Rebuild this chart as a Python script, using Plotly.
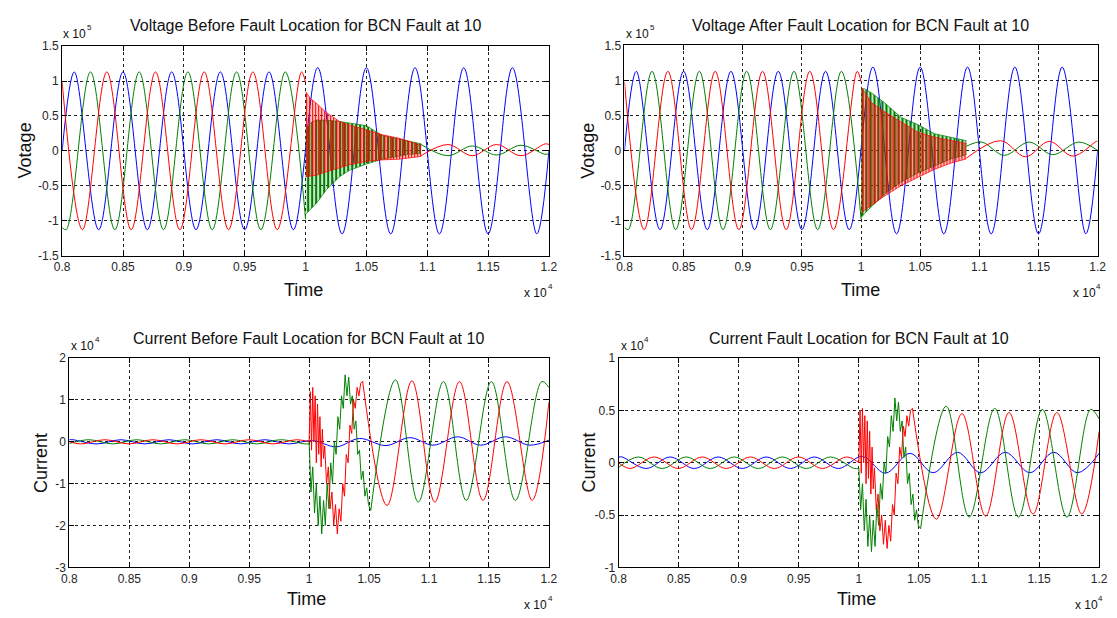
import plotly.graph_objects as go

W, H = 1117, 618

# ---------------- time axis / ticks ----------------
X_TICKS = [0.8, 0.85, 0.9, 0.95, 1.0, 1.05, 1.1, 1.15, 1.2]
X_TICKTEXT = ["0.8", "0.85", "0.9", "0.95", "1", "1.05", "1.1", "1.15", "1.2"]
V_TICKS = [-1.5, -1, -0.5, 0, 0.5, 1, 1.5]
V_TICKTEXT = ["-1.5", "-1", "-0.5", "0", "0.5", "1", "1.5"]
IB_TICKS = [-3, -2, -1, 0, 1, 2]
IB_TICKTEXT = ["-3", "-2", "-1", "0", "1", "2"]
IA_TICKS = [-1, -0.5, 0, 0.5, 1]
IA_TICKTEXT = ["-1", "-0.5", "0", "0.5", "1"]

TITLES = ["Voltage Before Fault Location for BCN Fault at 10",
          "Voltage After Fault Location for BCN Fault at 10",
          "Current Before Fault Location for BCN Fault at 10",
          "Current Fault Location for BCN Fault at 10"]

# ---------------- voltages (x 1e5), time (x 1e4) ----------------
# phase A (blue) extrema, both voltage charts
VA_T = [0.800, 0.810, 0.830, 0.850, 0.870, 0.890, 0.910, 0.930, 0.950, 0.970, 0.990,
        1.010, 1.030, 1.050, 1.070, 1.090, 1.110, 1.130, 1.150, 1.170, 1.190, 1.200]
VA_V = [0.00, 1.13, -1.13, 1.13, -1.13, 1.13, -1.13, 1.13, -1.13, 1.13, -1.13,
        1.19, -1.19, 1.19, -1.19, 1.19, -1.19, 1.19, -1.19, 1.19, -1.19, 0.00]
# phase B (green) pre-fault extrema
VB_T_PRE = [0.800, 0.8033, 0.8233, 0.8433, 0.8633, 0.8833, 0.9033, 0.9233, 0.9433, 0.9633, 0.9833, 1.000]
VB_V_PRE = [-1.10, -1.13, 1.13, -1.13, 1.13, -1.13, 1.13, -1.13, 1.13, -1.13, 1.13, -0.98]
# phase C (red) pre-fault extrema
VC_T_PRE = [0.800, 0.8167, 0.8367, 0.8567, 0.8767, 0.8967, 0.9167, 0.9367, 0.9567, 0.9767, 0.9967, 1.000]
VC_V_PRE = [0.98, -1.13, 1.13, -1.13, 1.13, -1.13, 1.13, -1.13, 1.13, -1.13, 1.13, 0.98]

# chart 1 (before fault location): transient envelopes, then residual waves
TL_BAND_T = [1.000, 1.004, 1.009, 1.017, 1.028, 1.036, 1.050, 1.063, 1.077, 1.085, 1.095]
TL_C_UP = [0.85, 0.75, 0.68, 0.55, 0.42, 0.37, 0.30, 0.23, 0.18, 0.14, 0.08]
TL_C_LO = [-0.37, -0.36, -0.35, -0.30, -0.24, -0.20, -0.15, -0.13, -0.12, -0.10, -0.08]
TL_B_UP = [0.30, 0.40, 0.44, 0.44, 0.42, 0.40, 0.36, 0.22, 0.17, 0.14, 0.10]
TL_B_LO = [-0.91, -0.84, -0.75, -0.56, -0.37, -0.28, -0.19, -0.12, -0.07, -0.05, -0.04]
TL_C_T = [1.095, 1.117, 1.137, 1.157, 1.177, 1.197, 1.200]
TL_C_V = [-0.07, 0.09, -0.07, 0.09, -0.07, 0.10, 0.09]
TL_B_T = [1.095, 1.117, 1.137, 1.157, 1.177, 1.197, 1.200]
TL_B_V = [0.09, -0.07, 0.07, -0.06, 0.08, -0.05, -0.04]

# chart 2 (after fault location)
TR_BAND_T = [1.000, 1.003, 1.009, 1.020, 1.034, 1.048, 1.062, 1.076, 1.089]
TR_C_UP = [0.91, 0.83, 0.68, 0.55, 0.41, 0.26, 0.19, 0.14, 0.10]
TR_C_LO = [-0.90, -0.85, -0.78, -0.65, -0.50, -0.38, -0.27, -0.18, -0.12]
TR_B_UP = [0.88, 0.88, 0.82, 0.68, 0.47, 0.37, 0.24, 0.19, 0.14]
TR_B_LO = [-0.96, -0.90, -0.80, -0.62, -0.45, -0.32, -0.22, -0.12, -0.06]
TR_C_T = [1.089, 1.118, 1.139, 1.159, 1.179, 1.199, 1.200]
TR_C_V = [-0.11, 0.14, -0.09, 0.13, -0.08, 0.13, 0.13]
TR_B_T = [1.089, 1.102, 1.121, 1.142, 1.162, 1.184, 1.200]
TR_B_V = [0.06, 0.12, -0.07, 0.12, -0.06, 0.12, 0.00]

# ---------------- currents (x 1e4) ----------------
IA_T = [0.800, 0.803, 0.823, 0.843, 0.863, 0.883, 0.903, 0.923, 0.943, 0.963, 0.983, 1.003]
IB_T_PRE = [0.800, 0.8163, 0.8363, 0.8563, 0.8763, 0.8963, 0.9163, 0.9363, 0.9563, 0.9763, 0.9963, 1.000]
IC_T_PRE = [0.800, 0.8097, 0.8297, 0.8497, 0.8697, 0.8897, 0.9097, 0.9297, 0.9497, 0.9697, 0.9897, 1.000]
# transient time grids (fault inception)
IB_T_TR = [1.000, 1.0015, 1.003, 1.0045, 1.006, 1.0075, 1.009, 1.0105, 1.012, 1.0135, 1.015, 1.0165,
           1.018, 1.0195, 1.021, 1.0225, 1.024, 1.0255, 1.027, 1.0285, 1.030, 1.0315, 1.033, 1.0345,
           1.036, 1.0375, 1.039, 1.0405, 1.042, 1.0435, 1.045, 1.0465, 1.048, 1.0495, 1.0514]
IC_T_TR = [1.000, 1.001, 1.002, 1.003, 1.004, 1.005, 1.006, 1.007, 1.008, 1.009, 1.010, 1.011,
           1.012, 1.013, 1.0145, 1.016, 1.0175, 1.019, 1.0205, 1.022, 1.0235, 1.025, 1.0265, 1.028,
           1.0295, 1.031, 1.0325, 1.034, 1.0355, 1.037, 1.0385, 1.040, 1.0415, 1.043, 1.0446]

# chart 3 (current before fault location)
BL_A_PRE = [0.05, 0.05, -0.05, 0.05, -0.05, 0.05, -0.05, 0.05, -0.05, 0.05, -0.05, 0.03]
BL_A_T_POST = [1.0227, 1.042, 1.064, 1.084, 1.1035, 1.124, 1.143, 1.1637, 1.184, 1.200]
BL_A_V_POST = [-0.12, 0.08, -0.09, 0.10, -0.08, 0.12, -0.08, 0.12, -0.08, 0.04]
BL_B_PRE = [-0.04, 0.05, -0.05, 0.05, -0.05, 0.05, -0.05, 0.05, -0.05, 0.05, -0.05, -0.05]
BL_C_PRE = [0.0, -0.05, 0.05, -0.05, 0.05, -0.05, 0.05, -0.05, 0.05, -0.05, 0.05, 0.0]
BL_B_TR = [0.0, -1.2, -0.6, -1.7, -1.0, -2.0, -1.3, -2.2, -1.4, -2.0, -1.0, -1.6, -0.5, -1.0, 0.0,
           -0.3, 0.6, 0.3, 1.1, 0.8, 1.6, 1.1, 1.55, 0.9, 1.1, 0.3, 0.5, -0.3, -0.2, -0.9, -0.7,
           -1.3, -1.1, -1.5, -1.64]
BL_C_TR = [0.0, 1.2, -0.2, 1.3, 0.0, 1.1, -0.5, 0.9, -0.3, 0.6, -0.6, 0.3, -0.4, -0.1, -1.0, -0.6,
           -1.6, -1.2, -2.0, -1.5, -2.2, -1.6, -1.9, -1.0, -1.3, -0.3, -0.5, 0.4, 0.2, 1.0, 0.8,
           1.3, 1.1, 1.4, 1.45]
BL_B_T_POST = [1.0514, 1.072, 1.091, 1.112, 1.131, 1.152, 1.172, 1.194, 1.200]
BL_B_V_POST = [-1.64, 1.48, -1.44, 1.44, -1.40, 1.44, -1.40, 1.44, 1.30]
BL_C_T_POST = [1.0446, 1.065, 1.0857, 1.1048, 1.1254, 1.145, 1.165, 1.186, 1.200]
BL_C_V_POST = [1.45, -1.52, 1.46, -1.44, 1.44, -1.40, 1.44, -1.40, 0.95]

# chart 4 (current fault location)
BR_A_PRE = [0.054, 0.055, -0.055, 0.055, -0.055, 0.055, -0.055, 0.055, -0.055, 0.055, -0.055, 0.06]
BR_A_T_POST = [1.0221, 1.0426, 1.0618, 1.0822, 1.1014, 1.1219, 1.1424, 1.1623, 1.182, 1.200]
BR_A_V_POST = [-0.10, 0.09, -0.096, 0.10, -0.096, 0.10, -0.096, 0.10, -0.096, 0.09]
BR_B_PRE = [-0.046, 0.055, -0.055, 0.055, -0.055, 0.055, -0.055, 0.055, -0.055, 0.055, -0.055, -0.052]
BR_C_PRE = [0.0, -0.055, 0.055, -0.055, 0.055, -0.055, 0.055, -0.055, 0.055, -0.055, 0.055, 0.0]
BR_B_TR = [-0.05, -0.45, -0.2, -0.65, -0.35, -0.8, -0.5, -0.85, -0.55, -0.8, -0.4, -0.6, -0.2, -0.35,
           0.0, -0.1, 0.25, 0.15, 0.45, 0.3, 0.62, 0.4, 0.58, 0.3, 0.4, 0.05, 0.15, -0.2, -0.1,
           -0.4, -0.3, -0.55, -0.45, -0.6, -0.63]
BR_C_TR = [0.0, 0.5, -0.1, 0.52, 0.0, 0.45, -0.2, 0.4, -0.15, 0.3, -0.3, 0.15, -0.25, -0.05, -0.45,
           -0.3, -0.65, -0.5, -0.78, -0.55, -0.82, -0.6, -0.75, -0.4, -0.5, -0.1, -0.2, 0.15, 0.05,
           0.35, 0.25, 0.45, 0.35, 0.5, 0.52]
BR_B_T_POST = [1.0514, 1.0727, 1.0918, 1.1131, 1.1328, 1.1527, 1.1732, 1.1929, 1.200]
BR_B_V_POST = [-0.63, 0.54, -0.52, 0.52, -0.52, 0.51, -0.52, 0.51, 0.42]
BR_C_T_POST = [1.0446, 1.0645, 1.0858, 1.1055, 1.125, 1.145, 1.1648, 1.1855, 1.200]
BR_C_V_POST = [0.52, -0.54, 0.47, -0.51, 0.48, -0.49, 0.48, -0.49, 0.30]

BLUE, GREEN, RED = "#0000FF", "#008000", "#FF0000"

fig = go.Figure()


def axn(k):
    return ("x" + ("" if k == 1 else str(k)), "y" + ("" if k == 1 else str(k)))


def line(k, t, v, color, shape="spline"):
    xa, ya = axn(k)
    fig.add_trace(go.Scatter(x=t, y=v, mode="lines",
                             line=dict(color=color, width=1, shape=shape, smoothing=1),
                             xaxis=xa, yaxis=ya, showlegend=False, hoverinfo="skip"))


def band(k, t, lo, up, color, size, solidity):
    """Dense high-frequency ringing drawn as a vertically hatched envelope."""
    xa, ya = axn(k)
    fig.add_trace(go.Scatter(x=t, y=lo, mode="lines", line=dict(color=color, width=0.7),
                             xaxis=xa, yaxis=ya, showlegend=False, hoverinfo="skip"))
    fig.add_trace(go.Scatter(x=t, y=up, mode="lines", line=dict(color=color, width=0.7),
                             fill="tonexty", fillcolor="rgba(0,0,0,0)",
                             fillpattern=dict(shape="|", fgcolor=color, bgcolor="rgba(0,0,0,0)",
                                              size=size, solidity=solidity, fillmode="replace"),
                             xaxis=xa, yaxis=ya, showlegend=False, hoverinfo="skip"))


# chart 1
line(1, VA_T, VA_V, BLUE)
line(1, VB_T_PRE, VB_V_PRE, GREEN)
line(1, VC_T_PRE, VC_V_PRE, RED)
line(1, TL_B_T, TL_B_V, GREEN)
band(1, TL_BAND_T, TL_B_LO, TL_B_UP, GREEN, 4, 0.6)
line(1, TL_C_T, TL_C_V, RED)
band(1, TL_BAND_T, TL_C_LO, TL_C_UP, RED, 3, 0.5)
# chart 2
line(2, VA_T, VA_V, BLUE)
line(2, VB_T_PRE, VB_V_PRE, GREEN)
line(2, VC_T_PRE, VC_V_PRE, RED)
line(2, TR_B_T, TR_B_V, GREEN)
band(2, TR_BAND_T, TR_B_LO, TR_B_UP, GREEN, 4, 0.6)
line(2, TR_C_T, TR_C_V, RED)
band(2, TR_BAND_T, TR_C_LO, TR_C_UP, RED, 3, 0.5)
# chart 3
line(3, IA_T + BL_A_T_POST, BL_A_PRE + BL_A_V_POST, BLUE)
line(3, IB_T_PRE, BL_B_PRE, GREEN)
line(3, IB_T_TR, BL_B_TR, GREEN, "linear")
line(3, BL_B_T_POST, BL_B_V_POST, GREEN)
line(3, IC_T_PRE, BL_C_PRE, RED)
line(3, IC_T_TR, BL_C_TR, RED, "linear")
line(3, BL_C_T_POST, BL_C_V_POST, RED)
# chart 4
line(4, IA_T + BR_A_T_POST, BR_A_PRE + BR_A_V_POST, BLUE)
line(4, IB_T_PRE, BR_B_PRE, GREEN)
line(4, IB_T_TR, BR_B_TR, GREEN, "linear")
line(4, BR_B_T_POST, BR_B_V_POST, GREEN)
line(4, IC_T_PRE, BR_C_PRE, RED)
line(4, IC_T_TR, BR_C_TR, RED, "linear")
line(4, BR_C_T_POST, BR_C_V_POST, RED)

FONT = "Liberation Sans, Arial, sans-serif"
TICKFONT = dict(family=FONT, size=12, color="#262626")


def ax_style(**kw):
    d = dict(showline=True, linecolor="black", linewidth=1, mirror="ticks",
             ticks="inside", ticklen=5, tickcolor="black",
             showgrid=True, gridcolor="#222", griddash="3px,3px", gridwidth=1,
             zeroline=False, tickfont=TICKFONT, fixedrange=True)
    d.update(kw)
    return d


def px(x):
    return x / W


def py(y):
    return 1 - y / H


DOM = {
    1: ([55, 549.3], [40, 254.3]),
    2: ([626, 1106.5], [39.3, 254.3]),
    3: ([62.3, 549.3], [359.3, 573.3]),
    4: ([620, 1108], [359.3, 573.3]),
}
YSPEC = {1: ([-1.5, 1.5], V_TICKS, V_TICKTEXT), 2: ([-1.5, 1.5], V_TICKS, V_TICKTEXT),
         3: ([-3, 2], IB_TICKS, IB_TICKTEXT), 4: ([-1, 1], IA_TICKS, IA_TICKTEXT)}

layout = dict(width=W, height=H, margin=dict(l=0, r=0, t=0, b=0),
              plot_bgcolor="white", paper_bgcolor="white")
for k in range(1, 5):
    (x0, x1), (y0, y1) = DOM[k]
    sx = "" if k == 1 else str(k)
    layout["xaxis" + sx] = ax_style(domain=[px(x0), px(x1)], range=[0.8, 1.2],
                                    tickvals=X_TICKS, ticktext=X_TICKTEXT,
                                    anchor="y" + sx)
    rng, tv, tt = YSPEC[k]
    layout["yaxis" + sx] = ax_style(domain=[py(y1), py(y0)], range=rng,
                                    tickvals=tv, ticktext=tt, anchor="x" + sx)
fig.update_layout(**layout)

TXT = "#111"
ann = []
TITLE_POS = {1: (302, 19), 2: (866, 19), 3: (305, 339), 4: (864, 339)}
for k in range(1, 5):
    x, y = TITLE_POS[k]
    ann.append(dict(x=px(x), y=py(y), text=TITLES[k - 1],
                    font=dict(family=FONT, size=16, color=TXT)))
# y-axis labels
for (x, y, t) in [(17, 147, "Votage"), (589, 147, "Votage"), (34, 466, "Current"), (590, 466, "Current")]:
    ann.append(dict(x=px(x), y=py(y), text=t, textangle=-90,
                    font=dict(family=FONT, size=18, color=TXT)))
# x-axis labels
for (x, y) in [(300, 290), (866, 290), (303, 606), (862, 606)]:
    ann.append(dict(x=px(x), y=py(y), text="Time",
                    font=dict(family=FONT, size=18, color=TXT)))
# exponent markers: "x 10" then a small raised exponent
for (x, y, e) in [(54, 28, "5"), (626, 28, "5"), (62, 347, "4"), (620, 347, "4"),
                  (522, 293, "4"), (1079, 293, "4"), (522, 612, "4"), (1081, 612, "4")]:
    ann.append(dict(x=px(x), y=py(y), text="x 10", xanchor="left",
                    font=dict(family=FONT, size=12, color=TXT)))
    ann.append(dict(x=px(x + 24), y=py(y - 7), text=e, xanchor="left",
                    font=dict(family=FONT, size=8, color=TXT)))
for a in ann:
    a.update(xref="paper", yref="paper", showarrow=False)
    a.setdefault("xanchor", "center")
    a.setdefault("yanchor", "middle")
fig.update_layout(annotations=ann)

fig.write_html("out.html")
